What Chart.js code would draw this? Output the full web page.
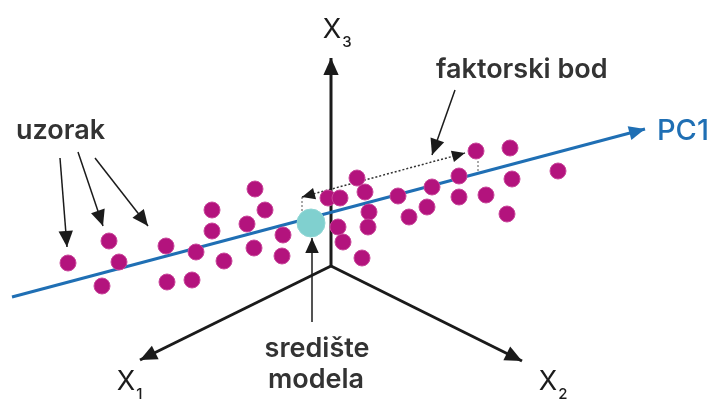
<!DOCTYPE html>
<html>
<head>
<meta charset="utf-8">
<script src="https://cdn.jsdelivr.net/npm/chart.js@4"></script>
<style>
  html, body { margin: 0; padding: 0; background: #fff; }
  #wrap { width: 715px; height: 401px; }
</style>
</head>
<body>
<div id="wrap"><canvas id="myChart" width="715" height="401"></canvas></div>
<script>
// uzorci (položaj na slici, y raste prema dolje)
const samplesX = [68, 109, 119, 102, 166, 196, 167, 192, 212, 212, 224, 255, 265, 247, 254, 283, 282,
                  328, 340, 338, 343, 357, 365, 369, 368, 362, 398, 432, 409, 427, 459, 459, 486, 476, 510, 512, 507, 558];
const samplesY = [263, 241, 262, 286, 246, 252, 282, 280, 210, 231, 261, 189, 210, 224, 248, 235, 256,
                  198, 198, 227, 242, 178, 192, 212, 227, 258, 196, 187, 217, 207, 176, 197, 195, 151, 148, 179, 214, 171];

// središte modela
const centreX = [311];
const centreY = [223];

// ishodište osi
const origin = [331, 266];

// linije: [x0, y0, x1, y1]
const pc1Line = [12, 297, 645, 129];
const axisX1 = [origin[0], origin[1], 140, 360];
const axisX2 = [origin[0], origin[1], 522, 361];
const axisX3 = [origin[0], origin[1], 331, 58];
const pointerSamples = [
    [60, 158, 67, 247],
    [78, 152, 103, 226],
    [95, 158, 148, 226]
];
const pointerScore = [455, 90, 432, 155];
const pointerCentre = [312, 322, 312, 238];
const scoreLine = [302, 197, 465, 153];
const scoreTicks = [
    [302, 197, 302, 211],
    [478, 161, 478, 173]
];

// tekstovi
const labels = [
    { text: 'uzorak', x: 16, y: 131, align: 'left', size: 27, weight: 600 },
    { text: 'faktorski bod', x: 436, y: 70, align: 'left', size: 27, weight: 600 },
    { text: 'PC1', x: 657, y: 131, align: 'left', size: 29, weight: 500, color: '#1f6fb4' },
    { text: 'središte', x: 317, y: 349, align: 'center', size: 27, weight: 600 },
    { text: 'modela', x: 316, y: 380, align: 'center', size: 27, weight: 600 }
];
const axisLabels = [
    { text: 'X', sub: '3', x: 332, y: 30 },
    { text: 'X', sub: '1', x: 126, y: 382 },
    { text: 'X', sub: '2', x: 548, y: 382 }
];

const ink = '#1b1b1b';
const blue = '#1f6fb4';

function lineSet(seg, color, width, opts) {
    return Object.assign({
        type: 'line',
        data: [{ x: seg[0], y: seg[1] }, { x: seg[2], y: seg[3] }],
        borderColor: color,
        borderWidth: width,
        pointRadius: 0,
        fill: false,
        order: 2
    }, opts || {});
}

const datasets = [];
datasets.push({
    type: 'scatter',
    label: 'uzorak',
    data: samplesX.map((x, i) => ({ x: x, y: samplesY[i] })),
    backgroundColor: '#b3137d',
    borderColor: '#c8459a',
    borderWidth: 1,
    pointRadius: 8,
    order: 0
});
datasets.push({
    type: 'scatter',
    label: 'središte',
    data: centreX.map((x, i) => ({ x: x, y: centreY[i] })),
    backgroundColor: '#80d0cf',
    borderColor: '#8fd6d4',
    borderWidth: 1,
    pointRadius: 14,
    order: 1
});
datasets.push(lineSet(pc1Line, blue, 3, { arrowEnd: 16 }));
datasets.push(lineSet(axisX1, ink, 3, { arrowEnd: 17 }));
datasets.push(lineSet(axisX2, ink, 3, { arrowEnd: 17 }));
datasets.push(lineSet(axisX3, ink, 3, { arrowEnd: 17 }));
pointerSamples.forEach(seg => datasets.push(lineSet(seg, ink, 1.5, { arrowEnd: 16 })));
datasets.push(lineSet(pointerScore, ink, 1.5, { arrowEnd: 16 }));
datasets.push(lineSet(pointerCentre, ink, 1.5, { arrowEnd: 15 }));
datasets.push(lineSet(scoreLine, '#333', 1.5, { borderDash: [2, 2], arrowEnd: 13, arrowStart: 13 }));
scoreTicks.forEach(seg => datasets.push(lineSet(seg, '#555', 1, { borderDash: [2, 2] })));

// Arrow heads + text
function drawHead(ctx, x0, y0, x1, y1, len, color) {
    const a = Math.atan2(y1 - y0, x1 - x0);
    const w = len * 0.45;
    ctx.save();
    ctx.fillStyle = color;
    ctx.beginPath();
    ctx.moveTo(x1, y1);
    ctx.lineTo(x1 - len * Math.cos(a) + w * Math.sin(a), y1 - len * Math.sin(a) - w * Math.cos(a));
    ctx.lineTo(x1 - len * Math.cos(a) - w * Math.sin(a), y1 - len * Math.sin(a) + w * Math.cos(a));
    ctx.closePath();
    ctx.fill();
    ctx.restore();
}

const annotate = {
    id: 'annotate',
    afterDatasetDraw(chart, args) {
        const ds = chart.data.datasets[args.index];
        if (!ds.arrowEnd && !ds.arrowStart) return;
        const xs = chart.scales.x, ys = chart.scales.y;
        const p0 = ds.data[0], p1 = ds.data[ds.data.length - 1];
        const x0 = xs.getPixelForValue(p0.x), y0 = ys.getPixelForValue(p0.y);
        const x1 = xs.getPixelForValue(p1.x), y1 = ys.getPixelForValue(p1.y);
        const color = ds.borderDash ? ink : ds.borderColor;
        if (ds.arrowEnd) drawHead(chart.ctx, x0, y0, x1, y1, ds.arrowEnd, color);
        if (ds.arrowStart) drawHead(chart.ctx, x1, y1, x0, y0, ds.arrowStart, color);
    },
    afterDraw(chart) {
        const ctx = chart.ctx;
        const xs = chart.scales.x, ys = chart.scales.y;
        ctx.save();
        ctx.textBaseline = 'middle';
        labels.forEach(l => {
            ctx.font = l.weight + ' ' + l.size + 'px Inter';
            ctx.fillStyle = l.color || '#333333';
            ctx.textAlign = l.align;
            ctx.fillText(l.text, xs.getPixelForValue(l.x), ys.getPixelForValue(l.y));
        });
        axisLabels.forEach(l => {
            const px = xs.getPixelForValue(l.x), py = ys.getPixelForValue(l.y);
            ctx.font = '400 27px Inter';
            ctx.fillStyle = '#1b1b1b';
            ctx.textAlign = 'center';
            ctx.fillText(l.text, px, py);
            const w = ctx.measureText(l.text).width;
            ctx.font = '500 15px Inter';
            ctx.textAlign = 'left';
            ctx.fillText(l.sub, px + w / 2 + 1, py + 12);
        });
        ctx.restore();
    }
};

new Chart(document.getElementById('myChart').getContext('2d'), {
    data: { datasets: datasets },
    options: {
        responsive: false,
        animation: false,
        layout: { padding: 0, autoPadding: false },
        plugins: { legend: { display: false }, tooltip: { enabled: false } },
        scales: {
            x: { type: 'linear', min: 0, max: 715, display: false },
            y: { type: 'linear', min: 0, max: 401, reverse: true, display: false }
        }
    },
    plugins: [annotate]
});
</script>
</body>
</html>
